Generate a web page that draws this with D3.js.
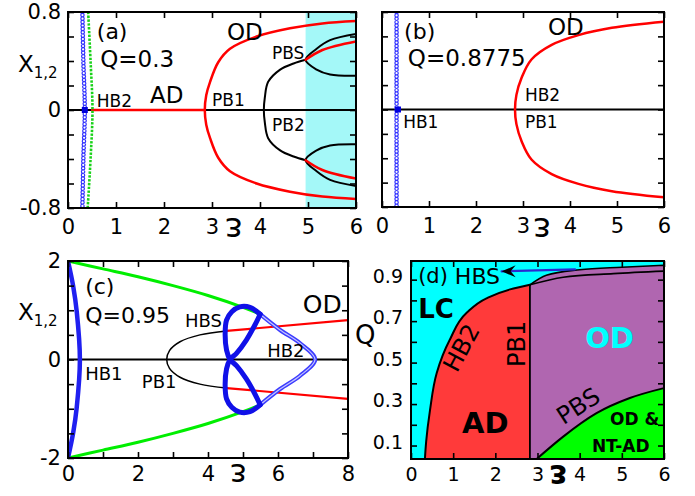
<!DOCTYPE html>
<html>
<head>
<meta charset="utf-8">
<script src="https://cdn.jsdelivr.net/npm/d3@7"></script>
<style>
  body { margin: 0; background: #fff; }
  text { font-family: "DejaVu Sans", sans-serif; }
</style>
</head>
<body>
<div id="chart"></div>
<script>
// ---- panel (a), Q = 0.3 ----
const aRedEps   = [2.85, 2.88, 2.96, 3.13, 3.375, 3.93, 4.625, 5.3, 6.0];
const aRedX     = [0, 0.12, 0.23, 0.39, 0.50, 0.60, 0.667, 0.707, 0.727];
const aPB2Eps   = [4.08, 4.1, 4.17, 4.42, 4.7, 4.95];
const aPB2X     = [0, 0.1, 0.23, 0.33, 0.38, 0.41];
const aSplitEps = [6, 5.46, 5.18, 4.95, 5.18, 5.46, 6];   // branches leaving PBS
const aSplitX   = [0.62, 0.57, 0.50, 0.41, 0.33, 0.29, 0.28];
const aPBSRedEps = [4.95, 5.3, 6];
const aPBSRedX   = [0.41, 0.49, 0.56];
const aBlueEps  = [0.30, 0.32, 0.35, 0.32, 0.30];
const aBlueX    = [0.8, 0.4, 0, -0.4, -0.8];
const aGreenEps = [0.42, 0.47, 0.51, 0.47, 0.41];
const aGreenX   = [0.8, 0.4, 0, -0.4, -0.8];
const aADLine   = [0.5, 2.85];
const aCyanBand = [4.95, 6];
const aHB1      = [0.35, 0];

// ---- panel (b), Q = 0.8775 ----
const bRedEps  = [2.83, 2.86, 2.97, 3.18, 3.61, 4.18, 4.89, 6.0];
const bRedX    = [0, 0.12, 0.26, 0.41, 0.53, 0.61, 0.67, 0.72];
const bBlueEps = [0.31, 0.31];
const bBlueX   = [0.8, -0.8];
const bHB1     = [0.34, 0];

// ---- panel (c), Q = 0.95 ----
const cGreenEps = [0, 1, 2, 3, 4, 5, 5.49];
const cGreenX   = [2, 1.84, 1.68, 1.5, 1.3, 1.06, 0.92];
const cHB1Eps   = [0, 0.15, 0.25, 0.34, 0.25, 0.15, 0];
const cHB1X     = [2, 1.48, 0.97, 0, -0.97, -1.48, -2];
const cPB1Eps   = [2.82, 2.9, 3.2, 3.77, 4.53];
const cPB1X     = [0, 0.18, 0.36, 0.5, 0.58];
const cRedEps   = [4.53, 8];
const cRedX     = [0.58, 0.8];
const cLoopEps  = [5.49, 5.2, 4.91, 4.68, 4.53, 4.49, 4.53, 4.63, 4.82, 5.1, 5.34, 5.49];
const cLoopX    = [0.92, 1.06, 1.07, 0.97, 0.8, 0.53, 0.19, 0, -0.13, -0.4, -0.7, -0.92];
const cHB2Eps   = [5.49, 6.06, 6.63, 7.06, 6.63, 6.06, 5.49];
const cHB2X     = [0.92, 0.6, 0.33, 0, -0.33, -0.6, -0.92];

// ---- panel (d), eps-Q plane ----
const dHB2Eps   = [0.33, 0.36, 0.45, 0.61, 0.92, 1.32, 1.79, 2.35, 2.82];
const dHB2Q     = [0.035, 0.12, 0.27, 0.45, 0.61, 0.74, 0.81, 0.853, 0.875];
const dPB1Eps   = 2.82;
const dPBSEps   = [2.98, 3.61, 4.4, 5.19, 6.0];
const dPBSQ     = [0.035, 0.143, 0.256, 0.329, 0.377];
const dTopHiEps = [2.82, 3.21, 4.0, 5.0, 6.0];
const dTopHiQ   = [0.875, 0.921, 0.948, 0.96, 0.969];
const dTopLoEps = [2.82, 3.61, 4.8, 6.0];
const dTopLoQ   = [0.875, 0.912, 0.929, 0.941];
const dArrowEps = [3.89, 2.15];
const dArrowQ   = [0.95, 0.94];

// ---- ticks ----
const xTicks6   = [0, 1, 2, 3, 4, 5, 6];
const yTicksAB  = [-0.8, -0.6, -0.4, -0.2, 0, 0.2, 0.4, 0.6, 0.8];
const yLabelsA  = [-0.8, 0, 0.8];
const xTicksC   = [0, 1, 2, 3, 4, 5, 6, 7, 8];
const xLabelsC  = [0, 2, 4, 6, 8];
const yTicksC   = [-2, -1.5, -1, -0.5, 0, 0.5, 1, 1.5, 2];
const yLabelsC  = [-2, 0, 2];
const yTicksD   = [0.1, 0.2, 0.3, 0.4, 0.5, 0.6, 0.7, 0.8, 0.9];
const yLabelsD  = [0.1, 0.3, 0.5, 0.7, 0.9];

const W = 695, H = 496;
const svg = d3.select("#chart").append("svg")
  .attr("width", W).attr("height", H)
  .style("background", "#fff");

const zip = (a, b) => a.map((v, i) => [v, b[i]]);
const mirror = pts => pts.map(d => [d[0], -d[1]]);

function makePanel(id, box, xd, yd) {
  const x = d3.scaleLinear().domain(xd).range([box.l, box.r]);
  const y = d3.scaleLinear().domain(yd).range([box.b, box.t]);
  svg.append("clipPath").attr("id", id).append("rect")
    .attr("x", box.l).attr("y", box.t)
    .attr("width", box.r - box.l).attr("height", box.b - box.t);
  const g = svg.append("g").attr("clip-path", `url(#${id})`);
  const line = (curve) => d3.line().x(d => x(d[0])).y(d => y(d[1])).curve(curve || d3.curveCatmullRom);
  return {x, y, g, box, line};
}

function stroke(p, pts, color, w, curve) {
  return p.g.append("path").attr("d", p.line(curve)(pts))
    .attr("fill", "none").attr("stroke", color).attr("stroke-width", w)
    .attr("stroke-linejoin", "round").attr("stroke-linecap", "round");
}

// open circles drawn along a path
function rings(p, pts, color) {
  const d = p.line()(pts);
  p.g.append("path").attr("d", d).attr("fill", "none").attr("stroke", color)
    .attr("stroke-width", 4.6).attr("stroke-linecap", "round").attr("stroke-dasharray", "0 3.4");
  p.g.append("path").attr("d", d).attr("fill", "none").attr("stroke", "#fff")
    .attr("stroke-width", 2.2).attr("stroke-linecap", "round").attr("stroke-dasharray", "0 3.4");
}

function axes(p, xt, xl, yt, yl, o) {
  const {x, y, box} = p;
  const fx = d => xl.includes(d) ? String(d) : "";
  const fy = d => yl.includes(d) ? String(d) : "";
  const none = () => "";
  const style = s => s.attr("font-family", "DejaVu Sans").attr("font-size", o.fs)
    .call(a => a.select(".domain").remove())
    .call(a => a.selectAll("line").attr("stroke", "#000").attr("stroke-width", 1.6))
    .call(a => a.selectAll("text").attr("fill", "#000"));
  svg.append("g").attr("transform", `translate(0,${box.b})`)
    .call(d3.axisBottom(x).tickValues(xt).tickFormat(fx).tickSizeInner(-6).tickSizeOuter(0).tickPadding(o.px))
    .call(style);
  svg.append("g").attr("transform", `translate(0,${box.t})`)
    .call(d3.axisTop(x).tickValues(xt).tickFormat(none).tickSizeInner(-6).tickSizeOuter(0))
    .call(style);
  const left = svg.append("g").attr("transform", `translate(${box.l},0)`)
    .call(d3.axisLeft(y).tickValues(yt).tickFormat(fy).tickSizeInner(-6).tickSizeOuter(0).tickPadding(o.py))
    .call(style);
  if (o.ydy) left.selectAll("text").attr("dy", o.ydy);
  svg.append("g").attr("transform", `translate(${box.r},0)`)
    .call(d3.axisRight(y).tickValues(yt).tickFormat(none).tickSizeInner(-6).tickSizeOuter(0))
    .call(style);
  svg.append("rect").attr("x", box.l).attr("y", box.t)
    .attr("width", box.r - box.l).attr("height", box.b - box.t)
    .attr("fill", "none").attr("stroke", "#000").attr("stroke-width", 2);
}

function note(p, t, e, v, o = {}) {
  const tx = svg.append("text").attr("font-size", o.fs || 17)
    .attr("fill", o.fill || "#000")
    .attr("font-weight", o.bold ? "bold" : null)
    .text(t);
  if (o.rot !== undefined) {
    tx.attr("text-anchor", "middle").attr("dominant-baseline", "central")
      .attr("transform", `translate(${p.x(e)},${p.y(v)}) rotate(${o.rot})`);
  } else {
    tx.attr("x", p.x(e)).attr("y", p.y(v));
  }
  return tx;
}

// the epsilon axis title is printed upside down in the original figure
function epsLabel(p, e, off, fs, bold) {
  svg.append("text").attr("font-size", fs).attr("font-weight", bold ? "bold" : null)
    .attr("text-anchor", "middle").attr("dominant-baseline", "central")
    .attr("transform", `translate(${p.x(e)},${p.box.b + off}) rotate(180)`)
    .text("ε");
}

function xLabel(p, dx, dy) {
  const t = svg.append("text").attr("x", p.box.l + dx).attr("y", p.box.t + dy).attr("font-size", 23);
  t.append("tspan").text("X");
  t.append("tspan").attr("font-size", 15).attr("dy", 6).text("1,2");
}

// ================= (a) =================
const pA = makePanel("clipA", {l: 68, r: 356, t: 12, b: 208}, [0, 6], [-0.8, 0.8]);
pA.g.append("rect")
  .attr("x", pA.x(aCyanBand[0])).attr("y", pA.box.t)
  .attr("width", pA.x(aCyanBand[1]) - pA.x(aCyanBand[0])).attr("height", pA.box.b - pA.box.t)
  .attr("fill", "#a4f8f8");
stroke(pA, [[0, 0], [6, 0]], "#000", 2, d3.curveLinear);
stroke(pA, aADLine.map(e => [e, 0]), "#ff0000", 2.5, d3.curveLinear);
const aRedUp = zip(aRedEps, aRedX);
stroke(pA, aRedUp.slice().reverse().concat(mirror(aRedUp).slice(1)), "#ff0000", 2.5);
const aPB2Up = zip(aPB2Eps, aPB2X);
stroke(pA, aPB2Up.slice().reverse().concat(mirror(aPB2Up).slice(1)), "#000", 2);
const aSplit = zip(aSplitEps, aSplitX);
stroke(pA, aSplit, "#000", 2);
stroke(pA, mirror(aSplit), "#000", 2);
const aPBSRed = zip(aPBSRedEps, aPBSRedX);
stroke(pA, aPBSRed, "#ff0000", 2.5);
stroke(pA, mirror(aPBSRed), "#ff0000", 2.5);
rings(pA, zip(aBlueEps, aBlueX), "#3434ff");
pA.g.append("path").attr("d", pA.line()(zip(aGreenEps, aGreenX)))
  .attr("fill", "none").attr("stroke", "#19d219").attr("stroke-width", 2.6)
  .attr("stroke-dasharray", "2.4 1.4");
pA.g.append("rect").attr("x", pA.x(aHB1[0]) - 3).attr("y", pA.y(aHB1[1]) - 3)
  .attr("width", 6).attr("height", 6).attr("fill", "#0000dd");
axes(pA, xTicks6, xTicks6, yTicksAB, yLabelsA, {fs: 21, px: 11, py: 7});
xLabel(pA, -50, 60);
epsLabel(pA, 3.45, 22, 34);
note(pA, "(a)", 0.6, 0.58, {fs: 22});
note(pA, "Q=0.3", 0.67, 0.35, {fs: 23});
note(pA, "OD", 3.31, 0.57, {fs: 23});
note(pA, "AD", 1.71, 0.057, {fs: 23});
note(pA, "HB2", 0.6, 0.025, {fs: 17});
note(pA, "PB1", 3.0, 0.033, {fs: 17});
note(pA, "PB2", 4.25, -0.17, {fs: 17});
note(pA, "PBS", 4.25, 0.42, {fs: 17});

// ================= (b) =================
const pB = makePanel("clipB", {l: 382, r: 664, t: 12, b: 207}, [0, 6], [-0.8, 0.8]);
stroke(pB, [[0, 0], [6, 0]], "#000", 2, d3.curveLinear);
const bRedUp = zip(bRedEps, bRedX);
stroke(pB, bRedUp.slice().reverse().concat(mirror(bRedUp).slice(1)), "#ff0000", 2.5);
rings(pB, zip(bBlueEps, bBlueX), "#3434ff");
pB.g.append("rect").attr("x", pB.x(bHB1[0]) - 3).attr("y", pB.y(bHB1[1]) - 3)
  .attr("width", 6).attr("height", 6).attr("fill", "#0000dd");
axes(pB, xTicks6, xTicks6, yTicksAB, [], {fs: 21, px: 11, py: 7});
epsLabel(pB, 3.4, 23, 34);
note(pB, "(b)", 0.47, 0.58, {fs: 22});
note(pB, "Q=0.8775", 0.55, 0.357, {fs: 23});
note(pB, "OD", 3.53, 0.61, {fs: 23});
note(pB, "HB2", 3.04, 0.07, {fs: 17});
note(pB, "PB1", 3.04, -0.15, {fs: 17});
note(pB, "HB1", 0.45, -0.15, {fs: 17});

// ================= (c) =================
const pC = makePanel("clipC", {l: 68, r: 348, t: 261, b: 458}, [0, 8], [-2, 2]);
stroke(pC, [[0, 0], [8, 0]], "#000", 2, d3.curveLinear);
const cPB1Up = zip(cPB1Eps, cPB1X);
stroke(pC, cPB1Up.slice().reverse().concat(mirror(cPB1Up).slice(1)), "#000", 1.5);
const cRed = zip(cRedEps, cRedX);
stroke(pC, cRed, "#ff0000", 2.2, d3.curveLinear);
stroke(pC, mirror(cRed), "#ff0000", 2.2, d3.curveLinear);
const cGreen = zip(cGreenEps, cGreenX);
stroke(pC, cGreen, "#00ee00", 3);
stroke(pC, mirror(cGreen), "#00ee00", 3);
stroke(pC, zip(cHB1Eps, cHB1X), "#2020f0", 4.5);
const cHB2 = zip(cHB2Eps, cHB2X);
stroke(pC, cHB2, "#3c3cff", 4.2);
stroke(pC, cHB2, "#fff", 1.2).attr("opacity", 0.7);
const cLoop = zip(cLoopEps, cLoopX);
stroke(pC, cLoop, "#1010e8", 5);
stroke(pC, mirror(cLoop), "#1010e8", 5);
axes(pC, xTicksC, xLabelsC, yTicksC, yLabelsC, {fs: 21, px: 8, py: 7});
xLabel(pC, -50, 59);
epsLabel(pC, 4.86, 17, 32);
note(pC, "(c)", 0.49, 1.33, {fs: 22});
note(pC, "Q=0.95", 0.49, 0.74, {fs: 22});
note(pC, "HBS", 3.34, 0.66, {fs: 18});
note(pC, "OD", 6.71, 0.94, {fs: 25});
note(pC, "HB2", 5.69, 0.05, {fs: 18});
note(pC, "HB1", 0.49, -0.42, {fs: 18});
note(pC, "PB1", 2.11, -0.58, {fs: 18});

// ================= (d) =================
const pD = makePanel("clipD", {l: 411, r: 664, t: 261, b: 459}, [0, 6], [0.035, 0.99]);
const qMin = pD.y.domain()[0];
pD.g.append("rect").attr("x", pD.box.l).attr("y", pD.box.t)
  .attr("width", pD.box.r - pD.box.l).attr("height", pD.box.b - pD.box.t).attr("fill", "#00ffff");
const dHB2 = zip(dHB2Eps, dHB2Q);
pD.g.append("path")
  .attr("d", d3.area().y(d => pD.y(d[1])).x0(d => pD.x(d[0])).x1(pD.x(dPB1Eps)).curve(d3.curveMonotoneY)(dHB2))
  .attr("fill", "#ff3a3a");
pD.g.append("rect").attr("x", pD.x(dHB2Eps[0])).attr("y", pD.y(qMin) - 1)
  .attr("width", pD.x(dPB1Eps) - pD.x(dHB2Eps[0])).attr("height", 3).attr("fill", "#ff3a3a");
const dTopHi = zip(dTopHiEps, dTopHiQ);
pD.g.append("path")
  .attr("d", d3.area().x(d => pD.x(d[0])).y0(pD.y(qMin) + 2).y1(d => pD.y(d[1])).curve(d3.curveMonotoneX)(dTopHi))
  .attr("fill", "#b066b0");
const dPBS = zip(dPBSEps, dPBSQ);
pD.g.append("path")
  .attr("d", d3.area().x(d => pD.x(d[0])).y0(pD.y(qMin) + 2).y1(d => pD.y(d[1])).curve(d3.curveMonotoneX)(dPBS.concat([[6.2, 0.39]])))
  .attr("fill", "#00ff00");
stroke(pD, dHB2, "#000", 2, d3.curveMonotoneY);
stroke(pD, [[dPB1Eps, qMin], [dPB1Eps, dTopHiQ[0]]], "#000", 1.8, d3.curveLinear);
stroke(pD, dPBS, "#000", 2, d3.curveMonotoneX);
stroke(pD, dTopHi, "#000", 1.6, d3.curveMonotoneX);
stroke(pD, zip(dTopLoEps, dTopLoQ), "#000", 1.6, d3.curveMonotoneX);
// arrow pointing at HBS
const aw = zip(dArrowEps, dArrowQ);
stroke(pD, aw, "#2a2ad0", 2.2, d3.curveLinear);
const tipX = pD.x(dArrowEps[1]), tipY = pD.y(dArrowQ[1]);
svg.append("path")
  .attr("d", `M${tipX},${tipY} L${tipX + 14},${tipY - 6} L${tipX + 9},${tipY} L${tipX + 14},${tipY + 6} Z`)
  .attr("fill", "#000");
axes(pD, xTicks6, xTicks6, yTicksD, yLabelsD, {fs: 19, px: 9, py: 8, ydy: "0.15em"});
svg.append("text").attr("x", pD.box.l - 56).attr("y", pD.box.t + 83).attr("font-size", 26).text("Q");
epsLabel(pD, 3.49, 17, 33, true);
note(pD, "(d)", 0.17, 0.886, {fs: 21});
note(pD, "HBS", 1.04, 0.881, {fs: 22});
note(pD, "LC", 0.17, 0.717, {fs: 26, bold: true});
note(pD, "AD", 1.21, 0.16, {fs: 29, bold: true});
note(pD, "OD", 4.13, 0.568, {fs: 29, bold: true, fill: "#00ffff"});
note(pD, "OD &", 4.72, 0.198, {fs: 17, bold: true});
note(pD, "NT-AD", 4.29, 0.07, {fs: 17, bold: true});
note(pD, "HB2", 1.2, 0.571, {fs: 24, rot: -62});
note(pD, "PB1", 2.51, 0.59, {fs: 24, rot: -90});
note(pD, "PBS", 3.97, 0.29, {fs: 24, rot: -33});
</script>
</body>
</html>
